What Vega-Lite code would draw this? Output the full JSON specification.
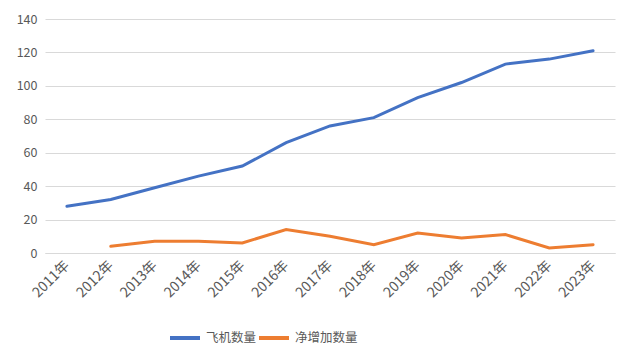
{
  "$schema": "https://vega.github.io/schema/vega-lite/v6.json",
  "width": 570,
  "height": 234,
  "autosize": "none",
  "padding": {"left": 45, "top": 19, "right": 20, "bottom": 109},
  "background": "white",
  "config": {
    "font": "Noto Sans CJK SC",
    "view": {"stroke": null},
    "axis": {"labelColor": "#595959", "labelFontSize": 12.5, "ticks": false, "domain": false, "gridColor": "#d9d9d9", "title": null}
  },
  "data": {"values": [
    {"year": "2011年", "series": "飞机数量", "value": 28},
    {"year": "2012年", "series": "飞机数量", "value": 32},
    {"year": "2013年", "series": "飞机数量", "value": 39},
    {"year": "2014年", "series": "飞机数量", "value": 46},
    {"year": "2015年", "series": "飞机数量", "value": 52},
    {"year": "2016年", "series": "飞机数量", "value": 66},
    {"year": "2017年", "series": "飞机数量", "value": 76},
    {"year": "2018年", "series": "飞机数量", "value": 81},
    {"year": "2019年", "series": "飞机数量", "value": 93},
    {"year": "2020年", "series": "飞机数量", "value": 102},
    {"year": "2021年", "series": "飞机数量", "value": 113},
    {"year": "2022年", "series": "飞机数量", "value": 116},
    {"year": "2023年", "series": "飞机数量", "value": 121},
    {"year": "2012年", "series": "净增加数量", "value": 4},
    {"year": "2013年", "series": "净增加数量", "value": 7},
    {"year": "2014年", "series": "净增加数量", "value": 7},
    {"year": "2015年", "series": "净增加数量", "value": 6},
    {"year": "2016年", "series": "净增加数量", "value": 14},
    {"year": "2017年", "series": "净增加数量", "value": 10},
    {"year": "2018年", "series": "净增加数量", "value": 5},
    {"year": "2019年", "series": "净增加数量", "value": 12},
    {"year": "2020年", "series": "净增加数量", "value": 9},
    {"year": "2021年", "series": "净增加数量", "value": 11},
    {"year": "2022年", "series": "净增加数量", "value": 3},
    {"year": "2023年", "series": "净增加数量", "value": 5}
  ]},
  "mark": {"type": "line", "strokeWidth": 3, "strokeCap": "round"},
  "encoding": {
    "x": {"field": "year", "type": "ordinal", "sort": null,
      "scale": {"type": "point", "padding": 0.5},
      "axis": {"labelAngle": -45, "labelAlign": "right", "labelBaseline": "middle", "labelPadding": 10, "labelFontSize": 14, "grid": false, "domain": true, "domainColor": "#d9d9d9"}},
    "y": {"field": "value", "type": "quantitative",
      "scale": {"domain": [0, 140], "nice": false},
      "axis": {"values": [0, 20, 40, 60, 80, 100, 120, 140], "labelPadding": 8}},
    "color": {"field": "series", "type": "nominal",
      "scale": {"domain": ["飞机数量", "净增加数量"], "range": ["#4472C4", "#ED7D31"]},
      "legend": {"title": null, "orient": "none", "direction": "horizontal", "legendX": 123, "legendY": 302,
        "symbolType": "stroke", "symbolSize": 900, "symbolStrokeWidth": 4, "labelFontSize": 12.5, "labelColor": "#595959", "columnPadding": -8, "labelOffset": 4}}
  }
}
